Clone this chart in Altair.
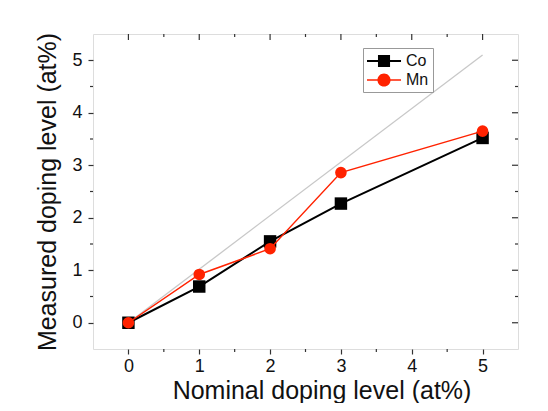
import altair as alt
import pandas as pd

# ---- data ----
nominal = [0, 1, 2, 3, 5]
co_measured = [0.0, 0.69, 1.55, 2.27, 3.52]
mn_measured = [0.0, 0.92, 1.41, 2.86, 3.65]
series_names = ["Co", "Mn"]
series_colors = ["#000000", "#ff2200"]
ideal_x = [0, 5]
ideal_y = [0, 5.1]
major_ticks = [0, 1, 2, 3, 4, 5]
minor_ticks = [0.5, 1.5, 2.5, 3.5, 4.5]

W, H = 425, 315
FRAME = "#333333"
FONT = "Liberation Sans"

df_co = pd.DataFrame({"x": nominal, "y": co_measured})
df_mn = pd.DataFrame({"x": nominal, "y": mn_measured})
df_ideal = pd.DataFrame({"x": ideal_x, "y": ideal_y})
df_major = pd.DataFrame({"t": major_ticks})
df_minor = pd.DataFrame({"t": minor_ticks})
df_leg = pd.DataFrame({"x": [-10, -10], "y": [0, 0], "series": series_names})

xs = alt.Scale(domain=[-0.5, 5.5], nice=False, zero=False)
ys = alt.Scale(domain=[-0.5, 5.5], nice=False, zero=False)

x_axis = alt.Axis(values=major_ticks, title="Nominal doping level (at%)", domain=False,
                  grid=False, tickSize=5, tickColor=FRAME, tickWidth=1.2,
                  labelFontSize=18, labelPadding=3, labelColor="#111",
                  titleFontSize=25, titleFontWeight="normal", titlePadding=3, titleColor="#111",
                  titleX=W / 2 + 16)
y_axis = alt.Axis(values=major_ticks, title="Measured doping level (at%)", domain=False,
                  grid=False, tickSize=5, tickColor=FRAME, tickWidth=1.2,
                  labelFontSize=18, labelPadding=6, labelColor="#111",
                  titleFontSize=25, titleFontWeight="normal", titlePadding=11, titleColor="#111")


def X(f):
    return alt.X(f"{f}:Q", scale=xs, axis=x_axis)


def Y(f):
    return alt.Y(f"{f}:Q", scale=ys, axis=y_axis)


ideal = alt.Chart(df_ideal).mark_line(color="#c8c8c8", strokeWidth=1.3).encode(x=X("x"), y=Y("y"))

co_line = alt.Chart(df_co).mark_line(color=series_colors[0], strokeWidth=2).encode(x=X("x"), y=Y("y"))
co_pts = alt.Chart(df_co).mark_square(color=series_colors[0], size=155, opacity=1).encode(x=X("x"), y=Y("y"))
mn_line = alt.Chart(df_mn).mark_line(color=series_colors[1], strokeWidth=1.5).encode(x=X("x"), y=Y("y"))
mn_pts = alt.Chart(df_mn).mark_circle(color=series_colors[1], size=135, opacity=1).encode(x=X("x"), y=Y("y"))

# mirrored / minor ticks
top_major = alt.Chart(df_major).mark_rule(color=FRAME, strokeWidth=1.2).encode(
    x=X("t"), y=alt.value(0), y2=alt.value(6))
top_minor = alt.Chart(df_minor).mark_rule(color=FRAME, strokeWidth=1.2).encode(
    x=X("t"), y=alt.value(0), y2=alt.value(3))
bot_minor = alt.Chart(df_minor).mark_rule(color=FRAME, strokeWidth=1.2).encode(
    x=X("t"), y=alt.value(H), y2=alt.value(H + 3))
right_major = alt.Chart(df_major).mark_rule(color=FRAME, strokeWidth=1.2).encode(
    y=Y("t"), x=alt.value(W), x2=alt.value(W - 6))
right_minor = alt.Chart(df_minor).mark_rule(color=FRAME, strokeWidth=1.2).encode(
    y=Y("t"), x=alt.value(W), x2=alt.value(W - 3))
left_minor = alt.Chart(df_minor).mark_rule(color=FRAME, strokeWidth=1.2).encode(
    y=Y("t"), x=alt.value(0), x2=alt.value(-3))

# legend (line-through-marker symbols); unit = 9 px with symbolSize 324
path_co = "M-1,-0.111H2.78V0.111H-1Z M0.22,-0.667H1.56V0.667H0.22Z"
path_mn = ("M-1,-0.083H2.78V0.083H-1Z "
           "M0.16,0A0.73,0.73 0 1,1 1.62,0A0.73,0.73 0 1,1 0.16,0Z")
leg_props = dict(orient="none", legendX=270, legendY=14, title=None, labelFontSize=16,
                 labelFont=FONT, labelColor="#111", symbolSize=324, labelOffset=21,
                 padding=4, rowPadding=2, strokeColor="#999999", fillColor="white",
                 symbolStrokeWidth=0)
legend_layer = alt.Chart(df_leg).mark_point(filled=True, opacity=1, clip=True).encode(
    x=X("x"), y=Y("y"),
    color=alt.Color("series:N", scale=alt.Scale(domain=series_names, range=series_colors),
                    legend=alt.Legend(**leg_props)),
    shape=alt.Shape("series:N", scale=alt.Scale(domain=series_names, range=[path_co, path_mn]),
                    legend=alt.Legend(**leg_props)),
)

chart = alt.layer(
    ideal, co_line, co_pts, mn_line, mn_pts,
    top_major, top_minor, bot_minor, right_major, right_minor, left_minor,
    legend_layer,
).properties(
    width=W, height=H,
    autosize=alt.AutoSizeParams(type="none"),
    padding={"left": 85, "top": 26, "right": 22, "bottom": 54},
).configure_view(
    stroke=FRAME, strokeWidth=1.5, fill="#fcfcfc"
).configure(
    font=FONT, background="white"
)

chart.save("out.html", embed_options={"renderer": "svg", "actions": False})
